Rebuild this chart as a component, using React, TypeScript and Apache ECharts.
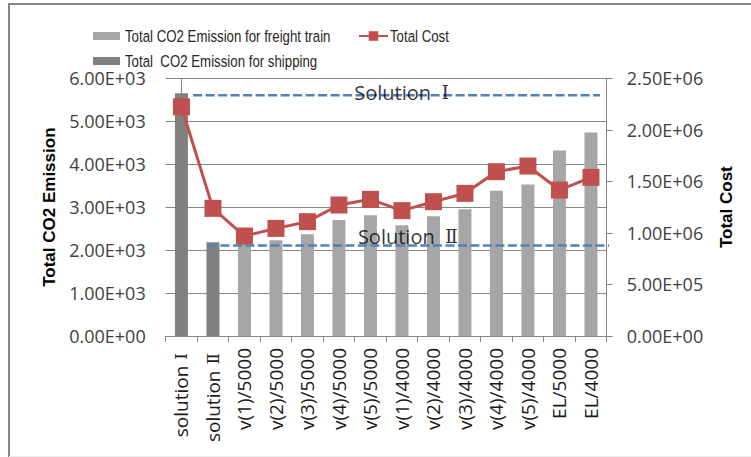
import React, { useEffect, useRef } from "react";
import * as echarts from "echarts";

const categories = [
  "solution Ⅰ",
  "solution Ⅱ",
  "v(1)/5000",
  "v(2)/5000",
  "v(3)/5000",
  "v(4)/5000",
  "v(5)/5000",
  "v(1)/4000",
  "v(2)/4000",
  "v(3)/4000",
  "v(4)/4000",
  "v(5)/4000",
  "EL/5000",
  "EL/4000",
];

const shippingEmission = [5650, 2180, null, null, null, null, null, null, null, null, null, null, null, null];
const trainEmission = [null, null, 2150, 2230, 2370, 2700, 2810, 2580, 2790, 2950, 3380, 3530, 4320, 4740];
const totalCost = [
  2224000, 1238000, 970000, 1044000, 1109000, 1271000, 1326000, 1216000, 1303000, 1384000, 1594000, 1649000,
  1416000, 1539000,
];

// reference lines (x in category-index units, y in emission units)
const solution1Line = [
  [0.37, 5605],
  [13.29, 5605],
];
const solution2Line = [
  [0.84, 2110],
  [13.66, 2110],
];
const solutionLabels = [
  { name: "Solution  Ⅰ", value: [6.99, 5681] },
  { name: "Solution  Ⅱ", value: [7.19, 2326] },
];

const legendNames = {
  train: "Total CO2 Emission for freight train",
  cost: "Total Cost",
  ship: "Total  CO2 Emission for shipping",
};

const leftTicks = { min: 0, max: 6000, interval: 1000 };
const rightTicks = { min: 0, max: 2500000, interval: 500000 };

function sci(v: number): string {
  const [m, e] = v.toExponential(2).split("e");
  const sign = e[0] === "-" ? "-" : "+";
  const digits = e.replace(/[+-]/, "").padStart(2, "0");
  return `${m}E${sign}${digits}`;
}

// wrap roman numerals so they can use a serif face
function romanRich(s: string): string {
  return s.replace(/([ⅠⅡ]+)/g, "{r|$1}");
}

const tickFont = "'Open Sans', 'Noto Sans CJK KR', sans-serif";
const romanFont = "'DejaVu Serif', 'Liberation Serif', serif";
const legendFont = "17px 'Liberation Sans', Arial, sans-serif";
const axisGray = "#868686";

export default function App() {
  const ref = useRef<HTMLDivElement>(null);

  useEffect(() => {
    if (!ref.current) return;
    const chart = echarts.init(ref.current, null, { renderer: "svg" });
    const legendText = (name: string, x: number, y: number) => ({
      type: "text",
      x,
      y,
      scaleX: 0.78,
      style: { text: name, font: legendFont, fill: "#262626", textVerticalAlign: "middle" },
      silent: true,
    });
    chart.setOption({
      animation: false,
      backgroundColor: "#ffffff",
      graphic: [
        { type: "line", shape: { x1: 8, y1: 4, x2: 751, y2: 4 }, style: { stroke: "#858585", lineWidth: 2 } },
        { type: "line", shape: { x1: 9, y1: 3, x2: 9, y2: 457 }, style: { stroke: "#858585", lineWidth: 2 } },
        { type: "line", shape: { x1: 9, y1: 456.5, x2: 751, y2: 456.5 }, style: { stroke: "#ececec", lineWidth: 1 } },
        legendText(legendNames.train, 125, 36),
        legendText(legendNames.cost, 390, 36),
        legendText(legendNames.ship, 125, 61),
      ],
      legend: [
        {
          data: [{ name: legendNames.train, icon: "rect" }],
          left: 93,
          top: 32,
          padding: 0,
          itemWidth: 27,
          itemHeight: 8,
          formatter: () => "",
          selectedMode: false,
        },
        {
          data: [legendNames.cost],
          left: 358,
          top: 30,
          padding: 0,
          itemWidth: 29,
          itemHeight: 12,
          formatter: () => "",
          selectedMode: false,
        },
        {
          data: [{ name: legendNames.ship, icon: "rect" }],
          left: 93,
          top: 57,
          padding: 0,
          itemWidth: 27,
          itemHeight: 8,
          formatter: () => "",
          selectedMode: false,
        },
      ],
      grid: { left: 165.7, right: 144.3, top: 78.3, bottom: 121, containLabel: false },
      xAxis: [
        {
          type: "category",
          data: categories,
          axisLine: { lineStyle: { color: axisGray, width: 1 } },
          axisTick: { show: true, length: 6, lineStyle: { color: axisGray } },
          axisLabel: {
            rotate: 90,
            interval: 0,
            margin: 12,
            fontFamily: tickFont,
            fontSize: 19,
            color: "#1a1a1a",
            formatter: (v: string) => romanRich(v),
            rich: { r: { fontFamily: romanFont, fontSize: 17, color: "#1a1a1a", padding: [0, 5, 0, 1] } },
          },
        },
        { type: "value", min: -0.5, max: 13.5, show: false },
      ],
      yAxis: [
        {
          type: "value",
          ...leftTicks,
          name: "Total CO2 Emission",
          nameLocation: "middle",
          nameRotate: 90,
          nameGap: 108,
          nameTextStyle: { fontFamily: "'Liberation Sans', Arial, sans-serif", fontWeight: "bold", fontSize: 17, color: "#000" },
          axisLine: { show: true, lineStyle: { color: axisGray } },
          axisTick: { show: true, length: 6, lineStyle: { color: axisGray } },
          splitLine: { show: true, lineStyle: { color: axisGray, width: 1 } },
          axisLabel: { margin: 20, fontFamily: tickFont, fontSize: 18, color: "#404040", formatter: sci },
        },
        {
          type: "value",
          ...rightTicks,
          position: "right",
          name: "Total Cost",
          nameLocation: "middle",
          nameRotate: 90,
          nameGap: 111,
          nameTextStyle: { fontFamily: "'Liberation Sans', Arial, sans-serif", fontWeight: "bold", fontSize: 17, color: "#000" },
          axisLine: { show: true, lineStyle: { color: axisGray } },
          axisTick: { show: true, length: 6, lineStyle: { color: axisGray } },
          splitLine: { show: false },
          axisLabel: { margin: 20, fontFamily: tickFont, fontSize: 18, color: "#404040", formatter: sci },
        },
      ],
      series: [
        {
          name: legendNames.train,
          type: "bar",
          data: trainEmission,
          barWidth: 13,
          barGap: "-100%",
          itemStyle: { color: "#a6a6a6" },
          z: 2,
        },
        {
          name: legendNames.ship,
          type: "bar",
          data: shippingEmission,
          barWidth: 13,
          barGap: "-100%",
          itemStyle: { color: "#808080" },
          z: 2,
        },
        {
          name: "sol1",
          type: "line",
          xAxisIndex: 1,
          yAxisIndex: 0,
          data: solution1Line,
          showSymbol: false,
          clip: false,
          lineStyle: { color: "#4f81bd", width: 2.5, type: [9, 3.5] },
          z: 3,
          silent: true,
        },
        {
          name: "sol2",
          type: "line",
          xAxisIndex: 1,
          yAxisIndex: 0,
          data: solution2Line,
          showSymbol: false,
          clip: false,
          lineStyle: { color: "#4f81bd", width: 2.5, type: [9, 3.5] },
          z: 3,
          silent: true,
        },
        {
          name: "labels",
          type: "scatter",
          xAxisIndex: 1,
          yAxisIndex: 0,
          data: solutionLabels,
          symbolSize: 1,
          itemStyle: { color: "rgba(0,0,0,0)" },
          label: {
            show: true,
            position: "inside",
            formatter: (p: any) => romanRich(p.name),
            fontFamily: tickFont,
            fontSize: 20,
            color: "#000",
            rich: { r: { fontFamily: romanFont, fontSize: 19, color: "#000" } },
          },
          z: 4,
          silent: true,
        },
        {
          name: legendNames.cost,
          type: "line",
          yAxisIndex: 1,
          data: totalCost,
          symbol: "rect",
          symbolSize: 17,
          lineStyle: { color: "#c0504d", width: 3 },
          itemStyle: { color: "#c0504d" },
          z: 5,
        },
      ],
    });
    return () => chart.dispose();
  }, []);

  return <div ref={ref} style={{ position: "absolute", left: 0, top: 0, width: 751, height: 457 }} />;
}
